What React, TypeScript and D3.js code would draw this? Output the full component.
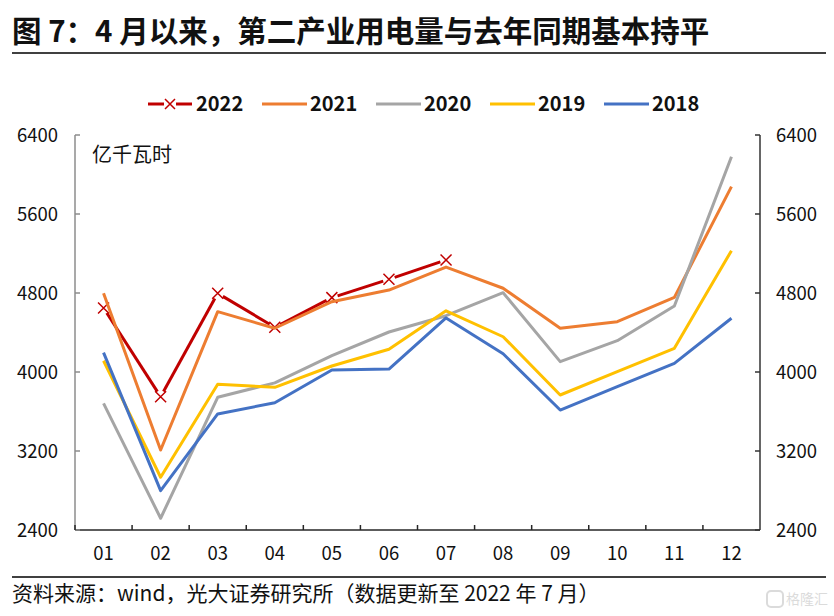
import React from "react";
import * as d3 from "d3";

const months = ["01", "02", "03", "04", "05", "06", "07", "08", "09", "10", "11", "12"];
const yTicks = [2400, 3200, 4000, 4800, 5600, 6400];

const s2022 = [4648, 3750, 4797, 4453, 4753, 4939, 5134];
const s2021 = [4797, 3210, 4611, 4443, 4712, 4830, 5062, 4848, 4443, 4510, 4756, 5877];
const s2020 = [3683, 2519, 3744, 3890, 4165, 4405, 4570, 4803, 4105, 4317, 4668, 6180];
const s2019 = [4114, 2934, 3876, 3845, 4061, 4230, 4620, 4357, 3767, 4003, 4240, 5229];
const s2018 = [4196, 2798, 3575, 3689, 4020, 4030, 4547, 4185, 3615, 3851, 4088, 4544];

const seriesNames = ["2022", "2021", "2020", "2019", "2018"];
const seriesValues = [s2022, s2021, s2020, s2019, s2018];
const seriesColors = ["#C00000", "#ED7D31", "#A5A5A5", "#FFC000", "#4472C4"];

const FONT = "'Noto Sans CJK SC', 'Noto Sans', sans-serif";

export default function App() {
  const W = 834, H = 616;
  const left = 75, right = 760, top = 135, bottom = 530;
  const x = d3.scaleBand<string>().domain(months).range([left, right]);
  const y = d3.scaleLinear().domain([2400, 6400]).range([bottom, top]);
  const cx = (i: number) => (x(months[i]) as number) + x.bandwidth() / 2;
  const line = d3.line<number>().x((_, i) => cx(i)).y((d) => y(d));

  const gap = 6;
  const segs2022: string[] = [];
  for (let i = 0; i < s2022.length - 1; i++) {
    const x1 = cx(i), y1 = y(s2022[i]), x2 = cx(i + 1), y2 = y(s2022[i + 1]);
    const len = Math.hypot(x2 - x1, y2 - y1);
    const ux = (x2 - x1) / len, uy = (y2 - y1) / len;
    segs2022.push(`M${x1 + ux * gap},${y1 + uy * gap}L${x2 - ux * gap},${y2 - uy * gap}`);
  }
  const xm = (px: number, py: number, r: number) =>
    `M${px - r},${py - r}L${px + r},${py + r}M${px - r},${py + r}L${px + r},${py - r}`;

  const legendX = [148, 262, 376, 490, 604];
  const legendY = 104;

  return (
    <svg width={W} height={H} style={{ position: "absolute", left: 0, top: 0, background: "#fff" }} fontFamily={FONT}>
      <text x={12} y={42} fontSize={29.5} fontWeight="bold" fill="#111">图 7：4 月以来，第二产业用电量与去年同期基本持平</text>
      <line x1={12} x2={826} y1={53} y2={53} stroke="#404040" strokeWidth={2} />

      {seriesNames.map((n, k) => (
        <g key={n}>
          {k === 0 ? (
            <g>
              <line x1={legendX[k]} x2={legendX[k] + 16} y1={legendY} y2={legendY} stroke={seriesColors[k]} strokeWidth={3} />
              <line x1={legendX[k] + 28} x2={legendX[k] + 44} y1={legendY} y2={legendY} stroke={seriesColors[k]} strokeWidth={3} />
              <path d={xm(legendX[k] + 22, legendY, 5)} stroke={seriesColors[k]} strokeWidth={1.5} fill="none" />
            </g>
          ) : (
            <line x1={legendX[k]} x2={legendX[k] + 45} y1={legendY} y2={legendY} stroke={seriesColors[k]} strokeWidth={3} />
          )}
          <text x={legendX[k] + 48} y={legendY} dy="0.36em" fontSize={20} fontWeight="bold" fill="#111">{n}</text>
        </g>
      ))}

      <text x={92} y={155} dy="0.36em" fontSize={20} fill="#111">亿千瓦时</text>

      <line x1={left} x2={left} y1={top} y2={bottom} stroke="#8c8c8c" strokeWidth={1.5} />
      <line x1={right} x2={right} y1={top} y2={bottom} stroke="#333" strokeWidth={1.5} />
      <line x1={left} x2={right} y1={bottom} y2={bottom} stroke="#262626" strokeWidth={1.5} />
      {yTicks.map((t) => (
        <g key={t}>
          <line x1={left} x2={left + 5} y1={y(t)} y2={y(t)} stroke="#8c8c8c" strokeWidth={1.5} />
          <line x1={right - 5} x2={right} y1={y(t)} y2={y(t)} stroke="#333" strokeWidth={1.5} />
          <text x={58} y={y(t)} dy="0.36em" textAnchor="end" fontSize={18.5} fill="#111">{t}</text>
          <text x={776} y={y(t)} dy="0.36em" textAnchor="start" fontSize={18.5} fill="#111">{t}</text>
        </g>
      ))}
      {months.map((m, i) => (
        <g key={m}>
          <line x1={x(m) as number} x2={x(m) as number} y1={bottom} y2={bottom - 5} stroke="#262626" strokeWidth={1.5} />
          <text x={cx(i)} y={553} dy="0.36em" textAnchor="middle" fontSize={18.5} fill="#111">{m}</text>
        </g>
      ))}

      {segs2022.map((d, i) => (
        <path key={i} d={d} stroke={seriesColors[0]} strokeWidth={3} fill="none" />
      ))}
      {s2022.map((v, i) => (
        <path key={"m" + i} d={xm(cx(i), y(v), 5.5)} stroke={seriesColors[0]} strokeWidth={1.5} fill="none" />
      ))}
      {seriesValues.slice(1).map((vals, k) => (
        <path key={k} d={line(vals) as string} stroke={seriesColors[k + 1]} strokeWidth={3} fill="none" strokeLinejoin="round" />
      ))}

      <line x1={12} x2={826} y1={577} y2={577} stroke="#404040" strokeWidth={2} />
      <text x={12} y={593} dy="0.36em" fontSize={21} fill="#111">资料来源：wind，光大证券研究所（数据更新至 2022 年 7 月）</text>

      <g opacity={0.35}>
        <rect x={767} y={591} width={16} height={16} rx={4} fill="none" stroke="#999" strokeWidth={2} />
        <text x={786} y={599} dy="0.36em" fontSize={14} fill="#999">格隆汇</text>
      </g>
    </svg>
  );
}
